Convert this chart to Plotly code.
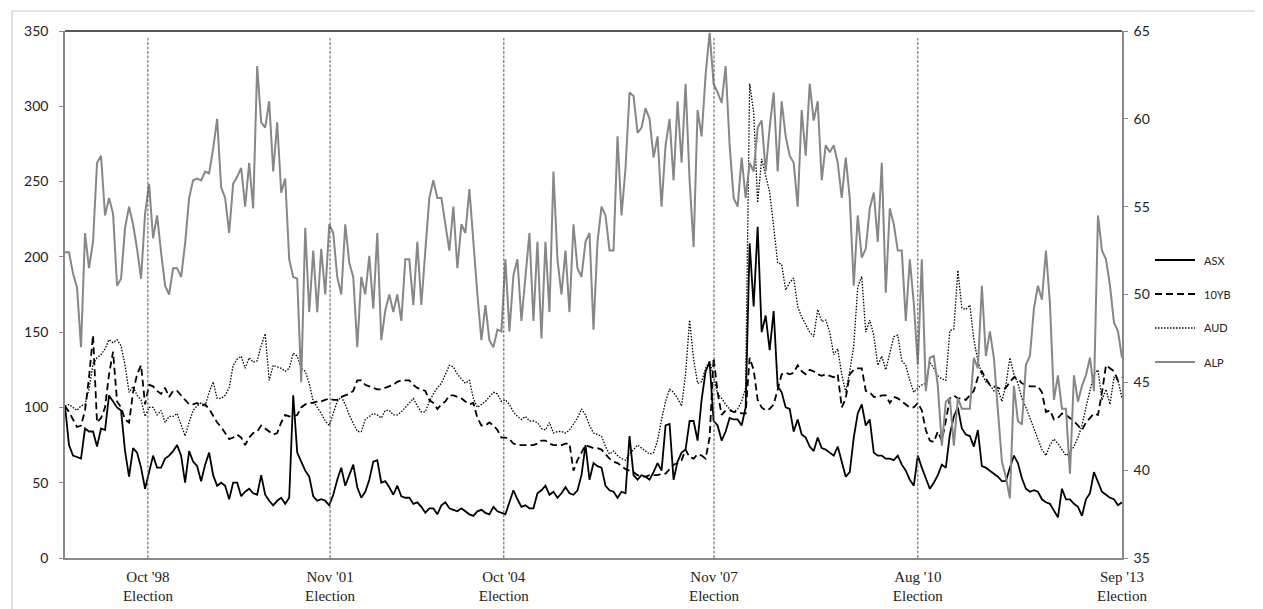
import plotly.graph_objects as go

# ---------------- data ----------------
asx = [101, 75, 68, 67, 66, 86, 84, 84, 74, 86, 85, 108, 104, 100, 98, 71, 54, 73, 70, 60,
       46, 58, 68, 60, 60, 66, 68, 71, 75, 68, 50, 71, 64, 61, 51, 62, 70, 55, 48, 50,
       48, 39, 50, 50, 41, 44, 46, 43, 42, 55, 42, 38, 35, 38, 40, 36, 40, 108, 70, 64,
       58, 54, 41, 38, 39, 38, 35, 42, 52, 60, 48, 55, 62, 47, 40, 44, 52, 64, 65, 50,
       51, 47, 42, 48, 41, 40, 40, 36, 37, 34, 30, 33, 33, 29, 35, 37, 33, 32, 31, 33,
       31, 29, 28, 31, 32, 30, 29, 34, 31, 30, 29, 37, 45, 39, 34, 35, 33, 33, 43, 45,
       48, 42, 44, 40, 43, 47, 43, 42, 45, 55, 75, 52, 63, 61, 60, 48, 45, 44, 40, 44,
       43, 81, 55, 52, 55, 54, 52, 57, 63, 58, 88, 89, 52, 64, 70, 72, 91, 91, 78, 105,
       124, 130, 91, 88, 78, 84, 93, 92, 92, 88, 100, 209, 167, 220, 150, 161, 138, 164, 114, 110,
       100, 99, 84, 92, 82, 80, 74, 71, 80, 73, 72, 70, 68, 74, 63, 54, 57, 80, 96, 102,
       88, 92, 70, 68, 68, 66, 66, 65, 68, 62, 58, 52, 48, 68, 60, 53, 46, 50, 55, 62,
       60, 82, 94, 100, 86, 82, 81, 74, 85, 61, 60, 58, 56, 54, 51, 51, 60, 68, 63, 53,
       46, 44, 45, 44, 39, 37, 36, 31, 27, 46, 39, 39, 36, 34, 28, 39, 43, 57, 51, 44,
       42, 40, 39, 35, 37]

bond10 = [101, 97, 92, 87, 88, 98, 120, 148, 90, 93, 100, 122, 137, 104, 100, 92, 90, 110, 122, 128,
          102, 115, 114, 111, 109, 113, 107, 111, 111, 108, 105, 102, 102, 103, 101, 102, 99, 94, 90, 87,
          83, 79, 80, 82, 80, 75, 80, 83, 84, 88, 86, 84, 82, 83, 90, 95, 94, 94, 95, 100,
          102, 103, 103, 104, 104, 105, 106, 105, 105, 107, 108, 109, 111, 118, 118, 115, 114, 113, 112, 112,
          113, 114, 115, 117, 118, 118, 118, 115, 113, 112, 111, 105, 103, 99, 102, 104, 108, 108, 107, 106,
          104, 102, 103, 93, 88, 88, 90, 88, 85, 80, 80, 79, 76, 75, 75, 75, 75, 75, 76, 78,
          78, 76, 75, 75, 75, 76, 76, 58, 65, 70, 75, 74, 73, 73, 72, 69, 66, 64, 63, 61,
          59, 58, 57, 55, 54, 54, 55, 55, 55, 56, 56, 59, 62, 63, 65, 72, 67, 66, 69, 68,
          66, 80, 133, 110, 95, 98, 98, 97, 97, 96, 96, 133, 125, 105, 100, 98, 99, 102, 112, 122,
          123, 122, 123, 128, 124, 122, 125, 124, 122, 121, 122, 121, 120, 122, 100, 106, 122, 125, 126, 126,
          111, 110, 107, 107, 108, 108, 103, 107, 106, 104, 102, 100, 100, 103, 98, 85, 78, 77, 84, 78,
          91, 106, 108, 106, 106, 105, 108, 111, 120, 124, 119, 115, 114, 113, 112, 113, 117, 120, 119, 116,
          115, 114, 114, 114, 110, 97, 98, 92, 93, 96, 95, 93, 91, 88, 85, 90, 93, 96, 95, 110,
          128, 126, 124, 118, 120]

aud = [101, 102, 100, 98, 101, 102, 112, 129, 133, 135, 139, 145, 143, 145, 141, 128, 110, 114, 108, 105,
       94, 100, 100, 95, 98, 90, 94, 94, 96, 88, 81, 90, 98, 101, 103, 101, 110, 117, 106, 106,
       108, 113, 128, 132, 134, 126, 133, 130, 131, 141, 149, 118, 128, 127, 126, 124, 126, 136, 134, 126,
       124, 116, 104, 100, 96, 91, 88, 96, 104, 107, 102, 95, 89, 84, 84, 92, 94, 96, 95, 93,
       98, 98, 95, 95, 97, 100, 103, 106, 101, 97, 97, 104, 109, 113, 116, 122, 128, 127, 122, 119,
       116, 118, 106, 100, 102, 104, 107, 110, 109, 104, 105, 102, 97, 94, 92, 94, 91, 91, 90, 86,
       85, 90, 83, 84, 84, 83, 85, 89, 93, 99, 95, 88, 83, 82, 81, 74, 69, 71, 68, 66,
       65, 69, 72, 75, 73, 71, 69, 70, 78, 92, 104, 112, 110, 106, 101, 122, 158, 132, 116, 117,
       126, 131, 120, 109, 106, 102, 99, 97, 99, 104, 113, 315, 296, 236, 265, 254, 243, 220, 196, 195,
       178, 183, 186, 167, 160, 155, 150, 147, 165, 157, 158, 150, 135, 139, 122, 110, 124, 141, 180, 187,
       150, 158, 148, 128, 134, 125, 136, 147, 148, 131, 128, 118, 110, 113, 115, 116, 130, 126, 121, 119,
       118, 151, 152, 191, 166, 165, 168, 145, 131, 122, 117, 115, 111, 112, 104, 115, 133, 122, 116, 106,
       100, 93, 87, 80, 72, 68, 75, 79, 76, 72, 68, 70, 74, 80, 88, 100, 111, 122, 125, 105,
       112, 102, 120, 118, 106]

alp = [52.4, 52.4, 51.2, 50.4, 47.0, 53.5, 51.5, 53.0, 57.5, 57.9, 54.5, 55.5, 54.6, 50.5, 50.9, 53.8, 55.0, 54.0, 52.6, 50.9,
       54.6, 56.3, 53.2, 54.5, 52.4, 50.5, 50.0, 51.5, 51.5, 51.0, 52.9, 55.5, 56.5, 56.6, 56.5, 57.0, 56.9, 58.3, 60.0, 56.1,
       55.5, 53.5, 56.3, 56.7, 57.2, 55.0, 57.5, 54.9, 63.0, 59.8, 59.5, 61.0, 57.0, 59.8, 55.8, 56.6, 52.0, 51.0, 50.9, 45.0,
       53.8, 49.0, 52.5, 49.0, 52.6, 50.0, 54.0, 53.5, 51.0, 50.0, 54.0, 51.8, 51.0, 47.0, 51.0, 50.0, 52.2, 49.2, 53.5, 47.4,
       49.1, 50.0, 49.0, 50.0, 48.5, 52.0, 52.0, 49.4, 53.0, 49.4, 52.5, 55.5, 56.5, 55.5, 55.5, 54.1, 52.5, 55.0, 51.5, 54.0,
       53.5, 56.0, 52.9, 50.0, 47.4, 49.4, 47.4, 47.0, 48.0, 47.9, 52.0, 47.9, 51.1, 52.0, 48.5, 51.0, 53.5, 48.5, 53.0, 47.5,
       53.0, 49.0, 57.0, 52.0, 50.0, 52.5, 49.0, 54.0, 51.5, 51.0, 53.0, 53.5, 48.0, 53.0, 55.0, 54.5, 52.5, 52.5, 59.0, 54.5,
       57.2, 61.5, 61.3, 59.2, 59.5, 60.6, 60.0, 57.8, 59.0, 55.0, 58.5, 60.0, 56.5, 61.0, 57.5, 62.0, 56.5, 52.7, 60.5, 59.0,
       62.5, 64.9, 62.0, 61.5, 60.9, 63.0, 58.5, 55.5, 55.0, 57.8, 55.5, 57.5, 57.0, 59.5, 59.9, 57.0, 59.5, 61.5, 57.0, 61.0,
       59.0, 57.9, 57.5, 55.0, 60.5, 57.9, 62.0, 59.9, 61.0, 56.5, 58.5, 58.1, 58.5, 57.5, 55.5, 57.8, 55.5, 50.5, 54.5, 52.1,
       52.6, 54.9, 55.8, 53.0, 57.5, 50.1, 54.9, 54.0, 52.5, 52.5, 48.5, 52.0, 49.5, 46.0, 52.0, 44.5, 46.4, 46.5, 44.8, 41.4,
       43.9, 44.1, 41.4, 44.1, 43.5, 43.5, 43.5, 46.4, 45.8, 50.5, 46.5, 47.9, 46.4, 43.4, 40.5, 39.6, 38.4, 44.8, 42.8, 42.6,
       46.0, 46.5, 49.2, 50.5, 49.7, 52.5, 49.5, 44.0, 45.4, 43.5, 43.5, 39.8, 45.4, 43.9, 44.8, 45.4, 46.4, 44.5, 54.5, 52.5,
       52.0, 50.5, 48.4, 47.9, 46.4]

# position of each election within the series, and its label
election_idx = [20.7, 66.2, 109.6, 162.1, 213.0, 264.0]
election_labels = ["Oct '98<br>Election", "Nov '01<br>Election", "Oct '04<br>Election",
                   "Nov '07<br>Election", "Aug '10<br>Election", "Sep '13<br>Election"]

left_ticks = [0, 50, 100, 150, 200, 250, 300, 350]
right_ticks = [35, 40, 45, 50, 55, 60, 65]

series_names = ["ASX", "10YB", "AUD", "ALP"]

# ---------------- figure ----------------
W, H = 1263, 609
ML, MR, MT, MB = 57, 149, 23, 59
PW, PH = W - ML - MR, H - MT - MB


def px(xp):
    return (xp - ML) / PW


def py(yp):
    return (H - MB - yp) / PH


x = list(range(len(alp)))
styles = [dict(color="black", width=1.8),
          dict(color="black", width=1.8, dash="7px,4px"),
          dict(color="black", width=1.3, dash="1.5px,1.5px"),
          dict(color="#878787", width=2)]

fig = go.Figure()
fig.add_trace(go.Scatter(x=x, y=asx, name=series_names[0], mode="lines", line=styles[0]))
fig.add_trace(go.Scatter(x=x, y=bond10, name=series_names[1], mode="lines", line=styles[1]))
fig.add_trace(go.Scatter(x=x, y=aud, name=series_names[2], mode="lines", line=styles[2]))
fig.add_trace(go.Scatter(x=x, y=alp, name=series_names[3], mode="lines", yaxis="y2", line=styles[3]))

shapes = []
annotations = []
for e in election_idx[:-1]:
    shapes.append(dict(type="line", xref="x", yref="paper", x0=e, x1=e, y0=0, y1=py(30),
                       line=dict(color="#5a5a5a", width=1, dash="3px,1.5px")))
# top border of plot area
shapes.append(dict(type="line", xref="paper", yref="paper", x0=0, x1=1, y0=1, y1=1,
                   line=dict(color="#222222", width=1.5)))
# outer chart border
shapes.append(dict(type="rect", xref="paper", yref="paper", x0=px(4), x1=px(1258), y0=py(605), y1=py(3),
                   line=dict(color="#c8c8c8", width=1)))

# legend drawn by hand (long line samples like the original)
leg_y = [252, 286, 320, 354]
for name, st, ly in zip(series_names, styles, leg_y):
    shapes.append(dict(type="line", xref="paper", yref="paper", x0=px(1147), x1=px(1187),
                       y0=py(ly), y1=py(ly), line=st))
    annotations.append(dict(xref="paper", yref="paper", x=px(1194), y=py(ly), text=name,
                            showarrow=False, xanchor="left", yanchor="middle",
                            font=dict(family="Lato, Noto Sans, sans-serif", size=11, color="#222222")))

fig.update_layout(
    width=W, height=H,
    margin=dict(l=ML, r=MR, t=MT, b=MB),
    paper_bgcolor="white", plot_bgcolor="white",
    showlegend=False,
    shapes=shapes,
    annotations=annotations,
    xaxis=dict(range=[0, len(alp) - 1], tickmode="array", tickvals=election_idx, ticktext=election_labels,
               showgrid=False, zeroline=False, showline=True, linecolor="#8a8a8a", linewidth=1.5,
               ticks="", ticklabelstandoff=4,
               tickfont=dict(family="Liberation Serif, DejaVu Serif, serif", size=15, color="#222222")),
    yaxis=dict(range=[0, 350], tickvals=left_ticks, showgrid=False, zeroline=False, showline=True,
               linecolor="#8a8a8a", linewidth=1.5, ticks="outside", ticklen=4, tickcolor="#8a8a8a",
               ticklabelstandoff=8,
               tickfont=dict(family="Lato, Noto Sans, sans-serif", size=14, color="#222222")),
    yaxis2=dict(range=[35, 65], tickvals=right_ticks, overlaying="y", side="right", showgrid=False,
                zeroline=False, showline=True, linecolor="#8a8a8a", linewidth=1.5, ticks="outside",
                ticklen=4, tickcolor="#8a8a8a", ticklabelstandoff=3,
                tickfont=dict(family="Lato, Noto Sans, sans-serif", size=14, color="#222222")),
)

fig.write_html("out.html")
